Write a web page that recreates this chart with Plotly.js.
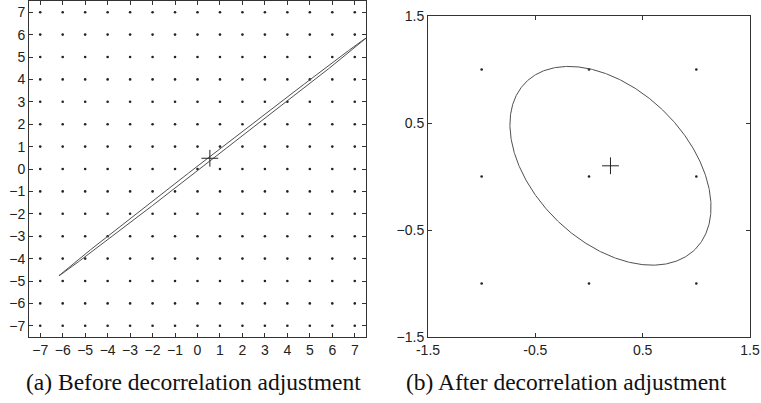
<!DOCTYPE html>
<html>
<head>
<meta charset="utf-8">
<script src="https://cdn.plot.ly/plotly-3.0.1.min.js"></script>
<style>
  html, body { margin: 0; padding: 0; background: #fff; }
  #chart { width: 761px; height: 403px; }
</style>
</head>
<body>
<div id="chart"></div>
<script>
// Integer lattice points shown in each panel
const latticeA = [-7, -6, -5, -4, -3, -2, -1, 0, 1, 2, 3, 4, 5, 6, 7];
const latticeB = [-1, 0, 1];

// Tick values for each panel
const ticksA = [-7, -6, -5, -4, -3, -2, -1, 0, 1, 2, 3, 4, 5, 6, 7];
const ticksB = [-1.5, -0.5, 0.5, 1.5];

// Estimated mean (plus marker) in each panel
const meanA = [0.55, 0.48];
const meanB = [0.2, 0.1];

// Uncertainty ellipses: centre, semi-axes, orientation (degrees)
const ellipseACenter = [0.675, 0.545];
const ellipseAAxes = [8.66, 0.085];
const ellipseAAngle = 37.8;
const ellipseBCenter = [0.2, 0.1];
const ellipseBAxes = [1.11, 0.713];
const ellipseBAngle = -44.4;

// Panel captions
const captionA = '(a) Before decorrelation adjustment';
const captionB = '(b) After decorrelation adjustment';

function lattice(vals) {
  const xs = [], ys = [];
  vals.forEach(y => vals.forEach(x => { xs.push(x); ys.push(y); }));
  return { x: xs, y: ys };
}

function ellipse(c, axes, angDeg) {
  const th = angDeg * Math.PI / 180, n = 720;
  const xs = [], ys = [];
  for (let i = 0; i <= n; i++) {
    const t = 2 * Math.PI * i / n;
    const u = axes[0] * Math.cos(t), v = axes[1] * Math.sin(t);
    xs.push(c[0] + u * Math.cos(th) - v * Math.sin(th));
    ys.push(c[1] + u * Math.sin(th) + v * Math.cos(th));
  }
  return { x: xs, y: ys };
}

const la = lattice(latticeA), lb = lattice(latticeB);
const ea = ellipse(ellipseACenter, ellipseAAxes, ellipseAAngle);
const eb = ellipse(ellipseBCenter, ellipseBAxes, ellipseBAngle);

const dotStyle = { color: '#222', size: 2.6, symbol: 'circle' };
const lineStyle = { color: '#505050', width: 1 };
const plusStyle = { symbol: 'cross-thin', size: 12, line: { color: '#222', width: 1 } };

const traces = [
  { x: la.x, y: la.y, mode: 'markers', marker: dotStyle, xaxis: 'x', yaxis: 'y', hoverinfo: 'skip' },
  { x: ea.x, y: ea.y, mode: 'lines', line: lineStyle, xaxis: 'x', yaxis: 'y', hoverinfo: 'skip' },
  { x: [meanA[0]], y: [meanA[1]], mode: 'markers', marker: plusStyle, xaxis: 'x', yaxis: 'y' },
  { x: lb.x, y: lb.y, mode: 'markers', marker: dotStyle, xaxis: 'x2', yaxis: 'y2', hoverinfo: 'skip' },
  { x: eb.x, y: eb.y, mode: 'lines', line: lineStyle, xaxis: 'x2', yaxis: 'y2', hoverinfo: 'skip' },
  { x: [meanB[0]], y: [meanB[1]], mode: 'markers', marker: plusStyle, xaxis: 'x2', yaxis: 'y2' }
];

const axisBase = {
  showgrid: false, zeroline: false,
  showline: true, linecolor: '#333', linewidth: 1,
  mirror: 'ticks', ticks: 'inside', ticklen: 4, tickcolor: '#333',
  tickfont: { family: 'Liberation Sans, Arial, sans-serif', size: 14, color: '#222' },
  tickmode: 'array', fixedrange: true
};

const layout = {
  width: 761, height: 403,
  margin: { l: 0, r: 0, t: 0, b: 0 },
  paper_bgcolor: '#fff', plot_bgcolor: '#fff',
  showlegend: false,
  xaxis: Object.assign({}, axisBase, { domain: [29 / 761, 366 / 761], range: [-7.5, 7.5], tickvals: ticksA, anchor: 'y' }),
  yaxis: Object.assign({}, axisBase, { domain: [66 / 403, 402 / 403], range: [-7.5, 7.5], tickvals: ticksA, anchor: 'x' }),
  xaxis2: Object.assign({}, axisBase, { domain: [428 / 761, 750 / 761], range: [-1.5, 1.5], tickvals: ticksB, ticktext: ticksB.map(String), anchor: 'y2' }),
  yaxis2: Object.assign({}, axisBase, { domain: [66 / 403, 387 / 403], range: [-1.5, 1.5], tickvals: ticksB, anchor: 'x2' }),
  annotations: [
    { text: captionA, xref: 'paper', yref: 'paper', x: 193 / 761, y: 21 / 403, xanchor: 'center', yanchor: 'middle', showarrow: false,
      font: { family: 'Liberation Serif, Times New Roman, serif', size: 23.5, color: '#111' } },
    { text: captionB, xref: 'paper', yref: 'paper', x: 566 / 761, y: 21 / 403, xanchor: 'center', yanchor: 'middle', showarrow: false,
      font: { family: 'Liberation Serif, Times New Roman, serif', size: 23.5, color: '#111' } }
  ]
};

Plotly.newPlot('chart', traces, layout, { staticPlot: true, displayModeBar: false });
</script>
</body>
</html>
